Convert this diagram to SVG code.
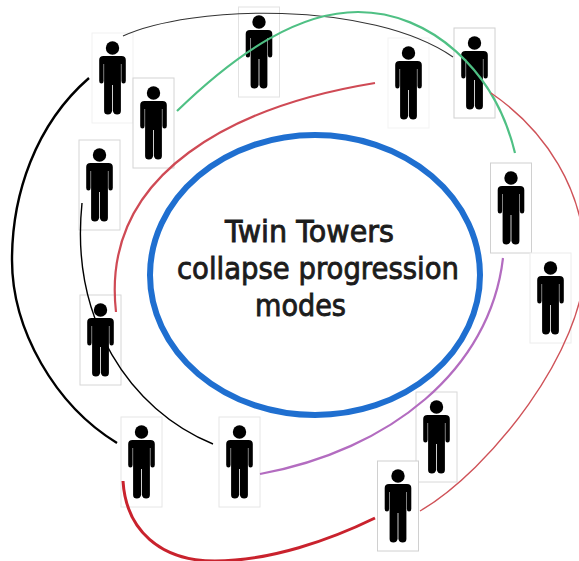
<svg xmlns="http://www.w3.org/2000/svg" width="579" height="561" viewBox="0 0 579 561">
<style>
.box{fill:#fff;stroke-width:1}
.fig{fill:#000;stroke:none}
.c{fill:none}
text{font-family:"DejaVu Sans",Verdana,sans-serif;font-size:30px;fill:#1c1c1c;stroke:#1c1c1c;stroke-width:.9}
</style>
<defs>
<g id="person">
<rect class="box" x="-20.5" y="0" width="41" height="90"/>
<circle class="fig" cx="0" cy="15" r="6.7"/>
<path class="fig" d="M-9 23H9Q13.3 23 13.3 27V48Q13.3 50.5 11 50.5Q8.9 50.5 8.9 48V31H8.4V78Q8.4 81.5 4.6 81.5Q1.2 81.5 .4 78V52H-.4V78Q-1.2 81.5 -4.6 81.5Q-8.4 81.5 -8.4 78V31H-8.9V48Q-8.9 50.5 -11 50.5Q-13.3 50.5 -13.3 48V27Q-13.3 23 -9 23Z"/>
</g>
</defs>
<rect width="579" height="561" fill="#fff"/>
<g id="n1" stroke="#f1f1f1" transform="translate(112.5,33)"><use href="#person"/></g>
<g id="n2" stroke="#d4d4d4" transform="translate(153.5,78)"><use href="#person"/></g>
<g id="n3" stroke="#e2e2e2" transform="translate(259,7)"><use href="#person"/></g>
<g id="n4" stroke="#f3f3f3" transform="translate(408.5,38)"><use href="#person"/></g>
<g id="n5" stroke="#d0d0d0" transform="translate(474.5,28)"><use href="#person"/></g>
<g id="n6" stroke="#d0d0d0" transform="translate(511,163)"><use href="#person"/></g>
<g id="n7" stroke="#ececec" transform="translate(550.5,253)"><use href="#person"/></g>
<g id="n8" stroke="#d8d8d8" transform="translate(436.5,392)"><use href="#person"/></g>
<g id="n9" stroke="#d0d0d0" transform="translate(398,461)"><use href="#person"/></g>
<g id="n10" stroke="#e6e6e6" transform="translate(239.5,417)"><use href="#person"/></g>
<g id="n11" stroke="#e6e6e6" transform="translate(141.5,417)"><use href="#person"/></g>
<g id="n12" stroke="#d6d6d6" transform="translate(100.5,295)"><use href="#person"/></g>
<g id="n13" stroke="#d6d6d6" transform="translate(99.5,140)"><use href="#person"/></g>
<g id="connectors" class="c">
<path d="M89 78C35 125 12 195 12 260C12 330 55 405 117 443" stroke="#000" stroke-width="2.4"/>
<path d="M123 36C190 5 370 0 453 57" stroke="#333" stroke-width="1.1"/>
<path d="M177 111C240 50 300 12 358 12C430 12 495 70 515 153" stroke="#4fc084" stroke-width="2.2"/>
<path d="M375 83C240 105 100 170 116 312" stroke="#cf4a55" stroke-width="2.2"/>
<path d="M491 93C545 130 585 190 585 262C585 350 490 470 420 511" stroke="#cf5258" stroke-width="1.4"/>
<path d="M82 203C70 320 130 410 213 444" stroke="#000" stroke-width="1.4"/>
<path d="M503 258C490 370 390 450 260 474" stroke="#b36cc0" stroke-width="2.2"/>
<path d="M123 481C126 530 160 561 215 561C270 561 330 540 375 518" stroke="#c9222d" stroke-width="3"/>
</g>
<g id="center">
<ellipse cx="315" cy="275" rx="165" ry="140" fill="none" stroke="#1f6fd0" stroke-width="6"/>
<text x="225" y="242" textLength="169" lengthAdjust="spacingAndGlyphs">Twin Towers</text>
<text x="177" y="279" textLength="282" lengthAdjust="spacingAndGlyphs">collapse progression</text>
<text x="255" y="316" textLength="91" lengthAdjust="spacingAndGlyphs">modes</text>
</g>
</svg>
